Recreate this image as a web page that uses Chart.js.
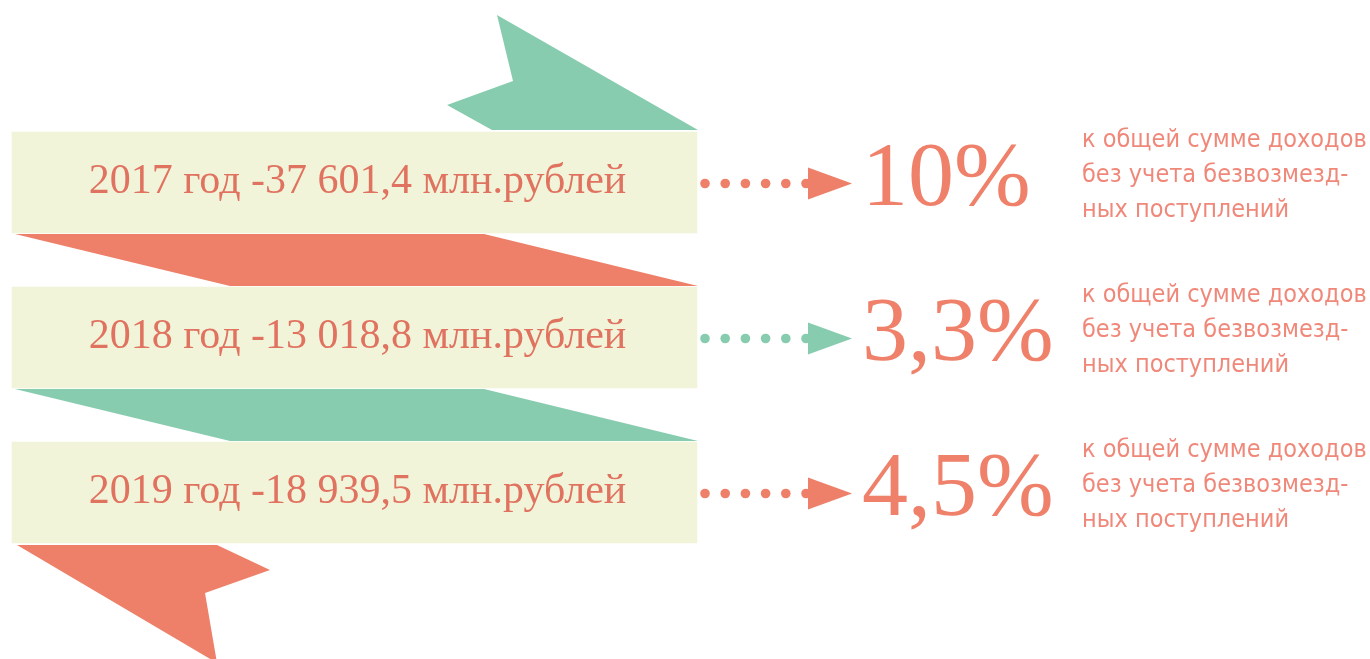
<!DOCTYPE html>
<html>
<head>
<meta charset="utf-8">
<script src="https://cdn.jsdelivr.net/npm/chart.js@4.4.1/dist/chart.umd.min.js"></script>
<style>
  html, body { margin: 0; padding: 0; background: #ffffff; }
  #chart { display: block; }
</style>
</head>
<body>
<canvas id="chart" width="1370" height="659"></canvas>
<script>
const years = ['2017', '2018', '2019'];
const amounts = [37601.4, 13018.8, 18939.5];
const shares = [10, 3.3, 4.5];
const noteLines = ['к общей сумме доходов', 'без учета безвозмезд-', 'ных поступлений'];

const RED = '#ee7f68';
const GREEN = '#88ccb0';
const BEIGE = '#f2f4da';
const TEXT_RED = '#e07360';

// ribbon span along the x scale (scale runs in page pixels)
const RIBBON_L = 12;
const RIBBON_R = 697;

const fmtAmount = (v) => {
  const [int, dec] = v.toFixed(1).split('.');
  return int.replace(/\B(?=(\d{3})+(?!\d))/g, ' ') + ',' + dec;
};
const fmtShare = (v) => String(v).replace('.', ',') + '%';
const accent = (i) => (i % 2 === 0 ? RED : GREEN);

const poly = (ctx, pts, color) => {
  ctx.beginPath();
  pts.forEach(([x, y], k) => (k ? ctx.lineTo(x, y) : ctx.moveTo(x, y)));
  ctx.closePath();
  ctx.fillStyle = color;
  ctx.fill();
};

const ribbonDecor = {
  id: 'ribbonDecor',
  beforeDatasetsDraw(chart) {
    const { ctx } = chart;
    const x = chart.scales.x;
    const px = (v) => x.getPixelForValue(v);
    const bars = chart.getDatasetMeta(0).data;

    ctx.save();
    // top flag
    const t0 = bars[0].y - bars[0].height / 2;
    poly(ctx, [
      [px(497), t0 - 117], [px(698), t0 - 2], [px(492), t0 - 2],
      [px(447), t0 - 27], [px(513), t0 - 51]
    ], GREEN);

    // folds between ribbons
    for (let i = 0; i < bars.length - 1; i++) {
      const b = bars[i].y + bars[i].height / 2 + 1;
      const t = bars[i + 1].y - bars[i + 1].height / 2 - 1;
      poly(ctx, [
        [px(15), b], [px(484), b], [px(698), t], [px(230), t]
      ], accent(i));
    }

    // bottom flag
    const last = bars[bars.length - 1];
    const bN = last.y + last.height / 2 + 2;
    poly(ctx, [
      [px(17), bN], [px(217), bN], [px(270), bN + 25],
      [px(205), bN + 48], [px(217), bN + 118]
    ], RED);
    ctx.restore();
  },
  afterDatasetsDraw(chart) {
    const { ctx } = chart;
    const x = chart.scales.x;
    const px = (v) => x.getPixelForValue(v);
    const bars = chart.getDatasetMeta(0).data;

    ctx.save();
    bars.forEach((bar, i) => {
      const cy = bar.y;
      const col = accent(i);

      // label inside ribbon
      ctx.fillStyle = TEXT_RED;
      ctx.font = '42px "Liberation Serif", serif';
      ctx.textAlign = 'center';
      ctx.textBaseline = 'alphabetic';
      ctx.fillText(`${years[i]} год -${fmtAmount(amounts[i])} млн.рублей`, bar.base + (bar.x - bar.base) / 2 + 3, cy + 10);

      // dotted leader
      ctx.fillStyle = col;
      for (let k = 0; k < 6; k++) {
        ctx.beginPath();
        ctx.arc(px(705 + k * 20.2), cy + 1, 4.8, 0, Math.PI * 2);
        ctx.fill();
      }
      // arrow head
      poly(ctx, [[px(808), cy - 15], [px(852), cy + 1], [px(808), cy + 17]], col);

      // percentage
      ctx.fillStyle = '#ef806a';
      ctx.font = '92px "Liberation Serif", serif';
      ctx.textAlign = 'left';
      ctx.fillText(fmtShare(shares[i]), px(862), cy + 22);

      // note
      ctx.fillStyle = '#f0887a';
      ctx.font = '25px "Liberation Sans Narrow", "DejaVu Sans Condensed", Roboto, sans-serif';
      noteLines.forEach((line, k) => {
        ctx.fillText(line, px(1082), cy - 36 + k * 35);
      });
    });
    ctx.restore();
  }
};

new Chart(document.getElementById('chart'), {
  type: 'bar',
  data: {
    labels: years,
    datasets: [{
      data: years.map(() => [RIBBON_L, RIBBON_R]),
      backgroundColor: BEIGE,
      borderWidth: 0,
      borderSkipped: false,
      barThickness: 101
    }]
  },
  options: {
    indexAxis: 'y',
    responsive: false,
    animation: false,
    devicePixelRatio: 1,
    layout: { padding: { top: 105, bottom: 89, left: 0, right: 0 } },
    plugins: { legend: { display: false }, tooltip: { enabled: false } },
    scales: {
      x: { type: 'linear', min: 0, max: 1370, display: false },
      y: { display: false, offset: true }
    }
  },
  plugins: [ribbonDecor]
});
</script>
</body>
</html>
